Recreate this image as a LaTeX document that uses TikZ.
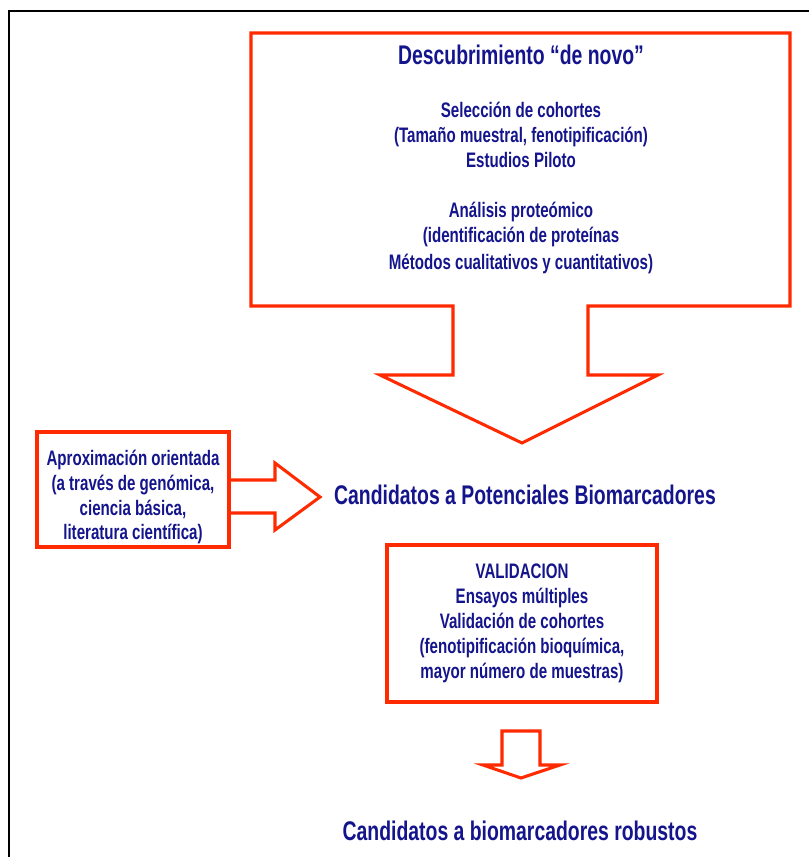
\documentclass[tikz,border=0pt]{standalone}
\usepackage{fontspec}
\setmainfont[FakeStretch=0.72]{Liberation Sans}
\usetikzlibrary{positioning}
\definecolor{cred}{HTML}{FF2A00}
\definecolor{cnavy}{HTML}{14148C}
\tikzset{
  outline/.style={draw=cred, line width=2.6pt, line join=miter},
  body/.style={text=cnavy, font=\bfseries\fontsize{17.9}{21.3}\selectfont, align=center, inner sep=0pt},
  headline/.style={text=cnavy, font=\bfseries\fontsize{23}{27}\selectfont, inner sep=0pt},
}

\begin{document}
\begin{tikzpicture}[x=0.03cm, y=-0.03cm]
  \useasboundingbox (0,0) rectangle (809,857);
  % frame
  \draw[line width=1.8pt] (809,11) -- (9,11) -- (9,857);
  % de novo discovery callout
  \draw[outline] (251,33) -- (790,33) -- (790,306) -- (588,306) -- (588,375) -- (658,375) -- (522,443)
    -- (380,375) -- (453,375) -- (453,306) -- (251,306) -- cycle;
  \node[headline] (denovo) at (521,55) {Descubrimiento “de novo”};
  \node[body] (cohorts) at (521,135) {Selección de cohortes\\(Tamaño muestral, fenotipificación)\\Estudios Piloto};
  \node[body] (proteo) at (521,238) {Análisis proteómico\\(identificación de proteínas\\[2pt]Métodos cualitativos y cuantitativos)};
  % candidates
  \node[headline] (cands) at (525,495) {Candidatos a Potenciales Biomarcadores};
  \node[outline, minimum width=5.76cm, minimum height=3.45cm] (approach) at (133,489.5) {};
  \node[body] (approachtxt) at (133,497)
    {Aproximación orientada\\(a través de genómica,\\ciencia básica,\\literatura científica)};
  \coordinate (ltip) at (320,497);
  \draw[outline] (229,480) -- (275,480) -- (275,463) -- (ltip) -- (275,530) -- (275,513) -- (229,513);
  % validation
  \node[body, outline, minimum width=8.1cm, minimum height=4.71cm] (valid) at (522,623.5)
    {VALIDACION\\Ensayos múltiples\\Validación de cohortes\\(fenotipificación bioquímica,\\mayor número de muestras)};
  \coordinate (dtip) at (521,778);
  \draw[outline] (502,731) -- (540,731) -- (540,765) -- (560,765) -- (dtip) -- (483,765) -- (502,765) -- cycle;
  \node[headline] (robust) at (520,831) {Candidatos a biomarcadores robustos};
\end{tikzpicture}
\end{document}
